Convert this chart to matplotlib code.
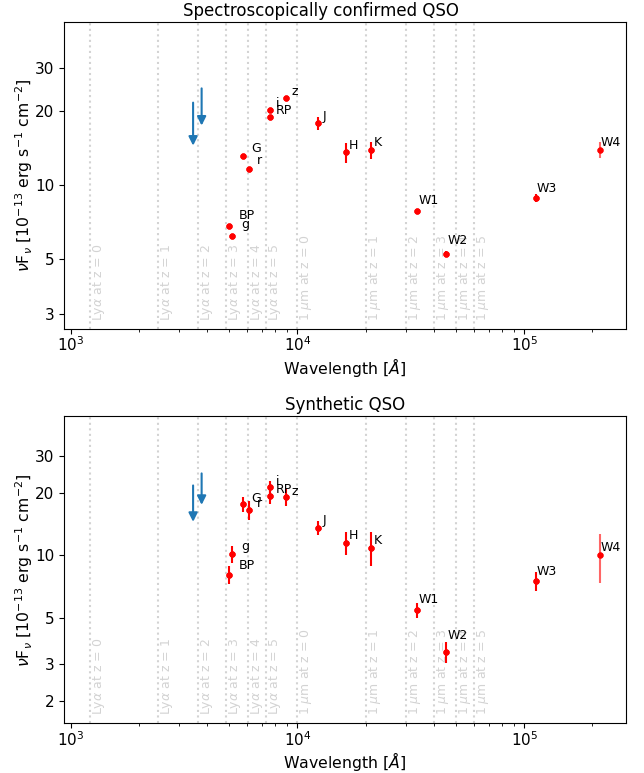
import numpy as np
import matplotlib.pyplot as plt
from matplotlib.ticker import FixedLocator, NullLocator, ScalarFormatter

# photometric bands and effective wavelengths [A]
bands = ['BP', 'g', 'G', 'r', 'i', 'RP', 'z', 'J', 'H', 'K', 'W1', 'W2', 'W3', 'W4']
wavelength = [5000, 5165, 5783, 6140, 7540, 7540, 8920, 12390, 16330, 21190,
              33800, 45300, 113200, 216400]

# nuFnu in 1e-13 erg/s/cm2 - spectroscopically confirmed QSO
flux_spec = [6.8, 6.2, 13.1, 11.7, 20.3, 19.0, 22.7, 17.9, 13.6, 13.9, 7.88, 5.26, 8.87, 13.97]
err_spec = [0.05, 0.05, 0.05, 0.1, 0.1, 0.1, 0.1, 1.1, 1.25, 1.1, 0.15, 0.12, 0.33, 1.1]

# synthetic QSO
flux_synth = [8.06, 10.1, 17.6, 16.5, 21.4, 19.4, 19.1, 13.6, 11.5, 10.9, 5.43, 3.44, 7.54, 10.05]
err_synth = [0.8, 0.95, 1.45, 1.7, 1.5, 1.65, 1.8, 1.1, 1.45, 2.0, 0.45, 0.4, 0.8, 2.65]

# upper limits (arrow tail -> tip)
uplim_wl = [3470, 3784]
uplim_tail = [21.7, 24.8]
uplim_tip = [14.5, 17.5]

redshifts = [0, 1, 2, 3, 4, 5]
lya = 1216.0
one_micron = 10000.0

panels = [
    ("Spectroscopically confirmed QSO", 0.458, flux_spec, err_spec, (2.61, 46.2), [3, 5, 10, 20, 30]),
    ("Synthetic QSO", 0.5, flux_synth, err_synth, (1.56, 46.6), [2, 3, 5, 10, 20, 30]),
]

fig, axes = plt.subplots(2, 1, figsize=(6.44, 7.73), dpi=100)
fig.subplots_adjust(left=0.0994, right=0.972, top=0.9715, bottom=0.0647, hspace=0.287)

for ax, (title, tx, flux, err, ylim, yticks) in zip(axes, panels):
    ax.set_xscale('log')
    ax.set_yscale('log')

    # reference lines: Lya and 1 micron at different redshifts
    for z in redshifts:
        for line, name in [(lya, r'Ly$\alpha$'), (one_micron, r'1 $\mu$m')]:
            xl = line * (1 + z)
            ax.axvline(xl, color='lightgrey', ls=':', lw=1.5, zorder=0)
            ax.text(xl * 1.01, 0.025, f'{name} at z = {z}', rotation=90,
                    color='lightgrey', ha='left', va='bottom', fontsize=9,
                    transform=ax.get_xaxis_transform())

    for b, wl, f, e in zip(bands, wavelength, flux, err):
        ax.errorbar(wl, f, yerr=e, fmt='o', color='red', ms=3.5, lw=1.5,
                    alpha=0.6 if b == 'W4' else 1.0)
        ax.plot(wl, f, 'o', color='red', ms=3.5)
        ax.text(wl + 500, f + 0.5, b, fontsize=9)

    for wl, top, tip in zip(uplim_wl, uplim_tail, uplim_tip):
        ax.annotate('', xy=(wl, tip), xytext=(wl, top),
                    arrowprops=dict(arrowstyle='-|>', color='C0', lw=1.5,
                                    mutation_scale=13, shrinkA=0, shrinkB=0))

    ax.set_xlim(936, 2.81e5)
    ax.set_ylim(*ylim)
    ax.yaxis.set_major_locator(FixedLocator(yticks))
    ax.yaxis.set_major_formatter(ScalarFormatter())
    ax.yaxis.set_minor_locator(NullLocator())
    ax.tick_params(labelsize=11)
    ax.tick_params(axis='x', which='major', pad=1.5)
    ax.set_title(title, fontsize=12, x=tx, pad=4.5)
    ax.set_xlabel(r'Wavelength [$\AA$]', fontsize=11.3, labelpad=1)
    ax.set_ylabel(r'$\nu$F$_\nu$ [10$^{-13}$ erg s$^{-1}$ cm$^{-2}$]', fontsize=11.3, labelpad=0)

fig.savefig('out.png', dpi=100)
